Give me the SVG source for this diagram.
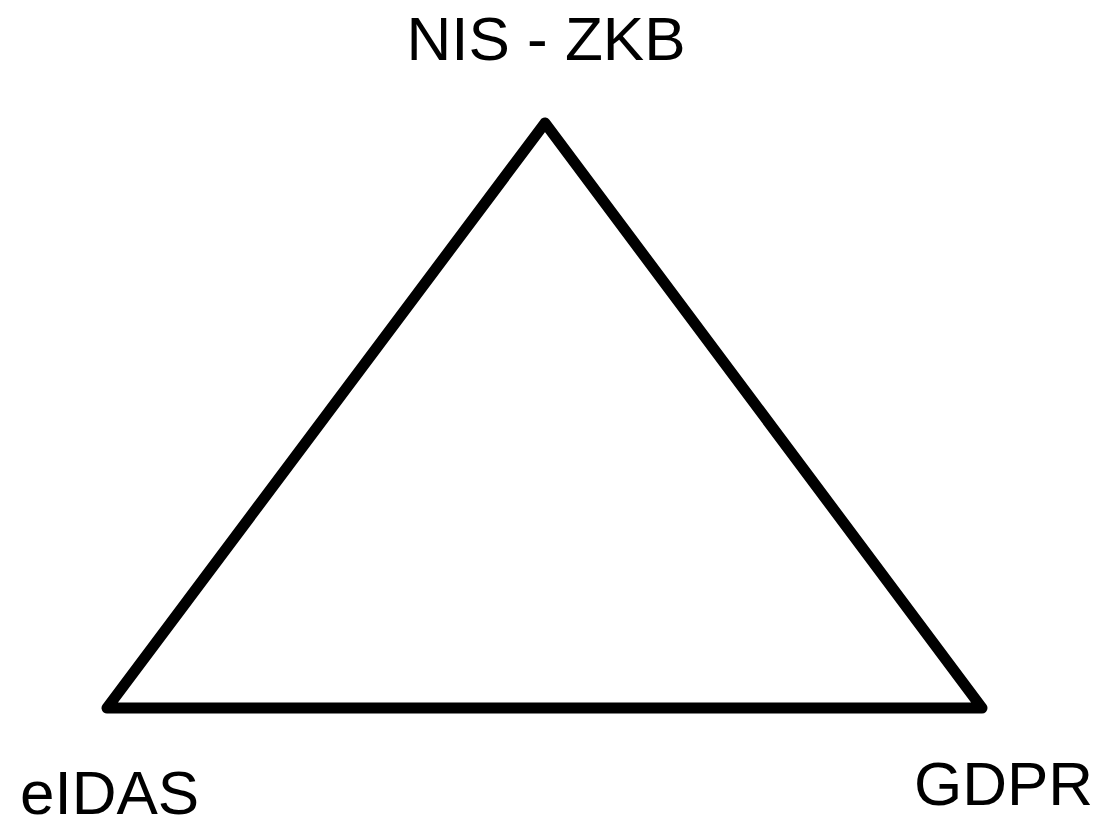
<svg xmlns="http://www.w3.org/2000/svg" width="1107" height="820" viewBox="0 0 1107 820">
  <style>
    .label { font-family: "Liberation Sans", Arial, sans-serif; font-size: 62px; fill: #000; }
    .edge { fill: none; stroke: #000; stroke-width: 11; stroke-linejoin: round; stroke-linecap: round; }
  </style>
  <rect width="1107" height="820" fill="#fff"/>
  <g id="connectors">
    <polygon class="edge" points="545,123 107,708 982,708"/>
  </g>
  <g id="node-nis">
    <text class="label" x="546" y="60" text-anchor="middle">NIS - ZKB</text>
  </g>
  <g id="node-eidas">
    <text class="label" x="20" y="814">eIDAS</text>
  </g>
  <g id="node-gdpr">
    <text class="label" x="914" y="805">GDPR</text>
  </g>
</svg>
